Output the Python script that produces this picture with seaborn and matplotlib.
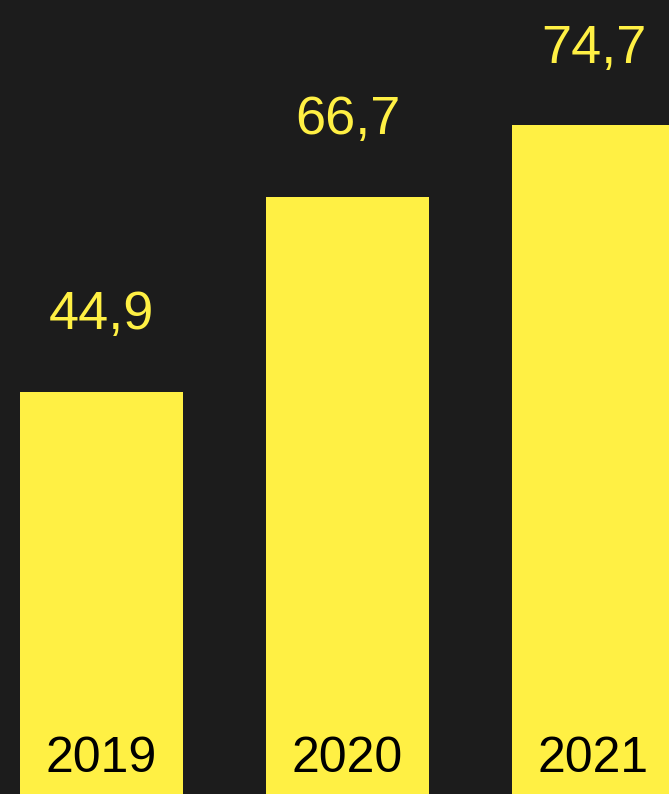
import matplotlib
matplotlib.use("Agg")
import matplotlib.pyplot as plt
import seaborn as sns
import pandas as pd

years = ["2019", "2020", "2021"]
values = [44.9, 66.7, 74.7]
value_labels = ["44,9", "66,7", "74,7"]

BG = "#1c1c1c"
YELLOW = "#fff044"

sns.set_theme(style="white")
plt.rcParams["font.family"] = ["Liberation Sans", "DejaVu Sans"]

fig = plt.figure(figsize=(6.69, 7.94), dpi=100, facecolor=BG)
ax = fig.add_axes([0, 0, 1, 1])
ax.set_facecolor(BG)

df = pd.DataFrame({"year": years, "value": values})
sns.barplot(data=df, x="year", y="value", width=0.664, color=YELLOW,
            saturation=1, ax=ax, linewidth=0)

for i, (v, lab, yr) in enumerate(zip(values, value_labels, years)):
    ax.text(i, v + 7.0, lab, ha="center", va="baseline", color=YELLOW, fontsize=39)
    ax.text(i, 2.46, yr, ha="center", va="baseline", color="black", fontsize=36)

ax.set_xlim(-0.4126, 2.307)
ax.set_ylim(0, 88.7)
ax.axis("off")

fig.savefig("out.png", dpi=100, facecolor=BG)
